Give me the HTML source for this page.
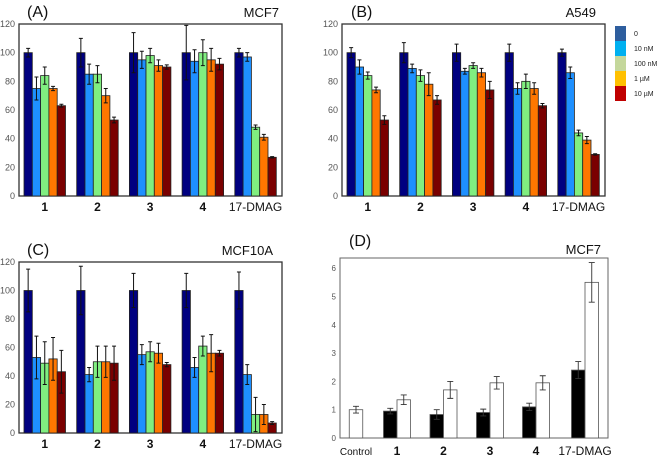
<!DOCTYPE html>
<html><head><meta charset="utf-8"><style>
body{margin:0;background:#fff;}
svg{display:block;font-family:"Liberation Sans",sans-serif;}
</style></head><body>
<svg id="fig" width="660" height="456" viewBox="0 0 660 456"></svg>
<script>
const groups=["1","2","3","4","17-DMAG"];
const seriesNames=["0","10 nM","100 nM","1 µM","10 µM"];
const aVals=[[100,75,84,75,63],[100,85,85,70,53],[100,95,98,91,90],[100,94,100,95,92],[100,97,48,41,27]];
const aErr=[[3,8,6,1.5,1],[10,7,6,5,2],[14,6,5,4,1.5],[19,8,9,8,4],[3,3,1.5,2,0.5]];
const bVals=[[100,90,84,74,53],[100,89,84,78,67],[100,87,91,86,74],[100,75,80,75,63],[100,86,44,39,29]];
const bErr=[[3.5,5,2.5,2,3],[7,3,4,8,3],[6,2,2,3,6],[6,4,5,4,1.5],[2.5,4,2,2.5,0.5]];
const cVals=[[100,53,49,52,43],[100,41,50,50,49],[100,55,57,56,48],[100,46,61,56,56],[100,41,13,13,7]];
const cErr=[[15,15,15,15,15],[17,5,11,11,12],[12,7,7,7,1.5],[12,7,7,13,2],[13,7,12,7,1]];
const yTicks=[0,20,40,60,80,100,120];
const dGroups=["Control","1","2","3","4","17-DMAG"];
const dBlack=[null,0.95,0.83,0.9,1.1,2.4];
const dBlackErr=[null,0.1,0.17,0.12,0.13,0.3];
const dWhite=[1.0,1.35,1.7,1.95,1.95,5.5];
const dWhiteErr=[0.12,0.17,0.3,0.22,0.25,0.7];
const dTicks=[0,1,2,3,4,5,6];
const barColors=["#000080","#1e90ff","#80ee80","#ff7700","#7a0000"];
const legendColors=["#2e5e9e","#00b0f0","#c4d79b","#ffc000","#c00000"];
const NS="http://www.w3.org/2000/svg";
const svg=document.getElementById('fig');
function mk(tag,attrs,parent,text){const e=document.createElementNS(NS,tag);for(const k in attrs)e.setAttribute(k,attrs[k]);if(text!==undefined)e.textContent=text;(parent||svg).appendChild(e);return e;}

function panel(key,x0,x1,y0,y1,vals,errs,letter,cell,letterX,letterY,cellX){
  const g=mk('g',{});
  
  
  const ys=v=>y1-(v/120)*(y1-y0);
  const bw=8.3, gap=52.7, start=x0+5;
  const frame=mk('rect',{x:x0,y:y0,width:x1-x0,height:y1-y0,fill:'none',stroke:'#333','stroke-width':1.3},g);
  
  
  yTicks.forEach(t=>{const tl=mk('text',{x:x0-4,y:ys(t)+3,'font-size':9,fill:'#555','text-anchor':'end'},g,String(t));
    
    });
  vals.forEach((row,gi)=>{row.forEach((v,si)=>{
    const bx=start+gi*gap+si*bw;
    const r=mk('rect',{x:bx,y:ys(v),width:bw,height:y1-ys(v),fill:barColors[si],stroke:'#222','stroke-width':0.8},g);
    
    
    const cx=bx+bw/2,e=errs[gi][si];
    const eb=mk('path',{d:`M${cx} ${ys(v+e)}V${ys(v-e)}M${cx-2} ${ys(v+e)}H${cx+2}M${cx-2} ${ys(v-e)}H${cx+2}`,stroke:'#111','stroke-width':1,fill:'none'},g);
    
    
  });
  const lx=start+gi*gap+2.5*bw;
  const xl=mk('text',{x:lx,y:y1+15,'font-size':groups[gi]==="17-DMAG"?12:12,'font-weight':groups[gi]==="17-DMAG"?'normal':'bold',fill:'#111','text-anchor':'middle'},g,groups[gi]);
  
  
  });
  const lt=mk('text',{x:letterX,y:letterY,'font-size':16,fill:'#111'},g,letter);
  
  
  const ct=mk('text',{x:cellX,y:letterY,'font-size':13,fill:'#111','text-anchor':'end'},g,cell);
  
  
}
panel('a',19,282,24,196,aVals,aErr,'(A)','MCF7',27,17,279);
panel('b',342,605,24,196,bVals,bErr,'(B)','A549',21+330,17,596);
panel('c',19,282,262,433,cVals,cErr,'(C)','MCF10A',27,255,273);

// legend
const lg=mk('g',{});


seriesNames.forEach((n,i)=>{
  const r=mk('rect',{x:615,y:26+i*15,width:11,height:15,fill:legendColors[i]},lg);
  
  
  const t=mk('text',{x:634,y:36+i*15,'font-size':7,fill:'#222'},lg,n);
  
  
});

// panel D
(function(){
  const g=mk('g',{});
  
  
  const x0=340,x1=608,y0=258,y1=438;
  const ys=v=>y1-v*28.3;
  const fr=mk('rect',{x:x0,y:y0,width:x1-x0,height:y1-y0,fill:'none',stroke:'#666','stroke-width':1},g);
  
  
  dTicks.forEach(t=>{const tl=mk('text',{x:x0-4,y:ys(t)+3,'font-size':8,fill:'#555','text-anchor':'end'},g,String(t));
    
    });
  const bw=13.5;
  const centers=[356,397,443.5,490,536,585];
  function bar(x,v,e,fill,name){
    const r=mk('rect',{x:x,y:ys(v),width:bw,height:y1-ys(v),fill:fill,stroke:'#555','stroke-width':0.8},g);
    
    
    const cx=x+bw/2;
    const eb=mk('path',{d:`M${cx} ${ys(v+e)}V${ys(v-e)}M${cx-3} ${ys(v+e)}H${cx+3}M${cx-3} ${ys(v-e)}H${cx+3}`,stroke:'#333','stroke-width':0.9,fill:'none'},g);
    
    
  }
  dGroups.forEach((lab,i)=>{
    const c=centers[i];
    if(dBlack[i]===null){bar(c-bw/2,dWhite[i],dWhiteErr[i],'#fff','bar-d-control');}
    else{bar(c-bw,dBlack[i],dBlackErr[i],'#000','bar-d-black-'+(i));bar(c,dWhite[i],dWhiteErr[i],'#fff','bar-d-white-'+(i));}
    const bold=(lab!=="Control"&&lab!=="17-DMAG");
    const xl=mk('text',{x:c,y:455,'font-size':bold?12:lab==="Control"?10:12,'font-weight':bold?'bold':'normal',fill:'#111','text-anchor':'middle'},g,lab);
    
    
  });
  const lt=mk('text',{x:349,y:246,'font-size':16,fill:'#111'},g,'(D)');
  
  
  const ct=mk('text',{x:601,y:254,'font-size':13,fill:'#111','text-anchor':'end'},g,'MCF7');
  
  
})();
</script>
</body></html>
